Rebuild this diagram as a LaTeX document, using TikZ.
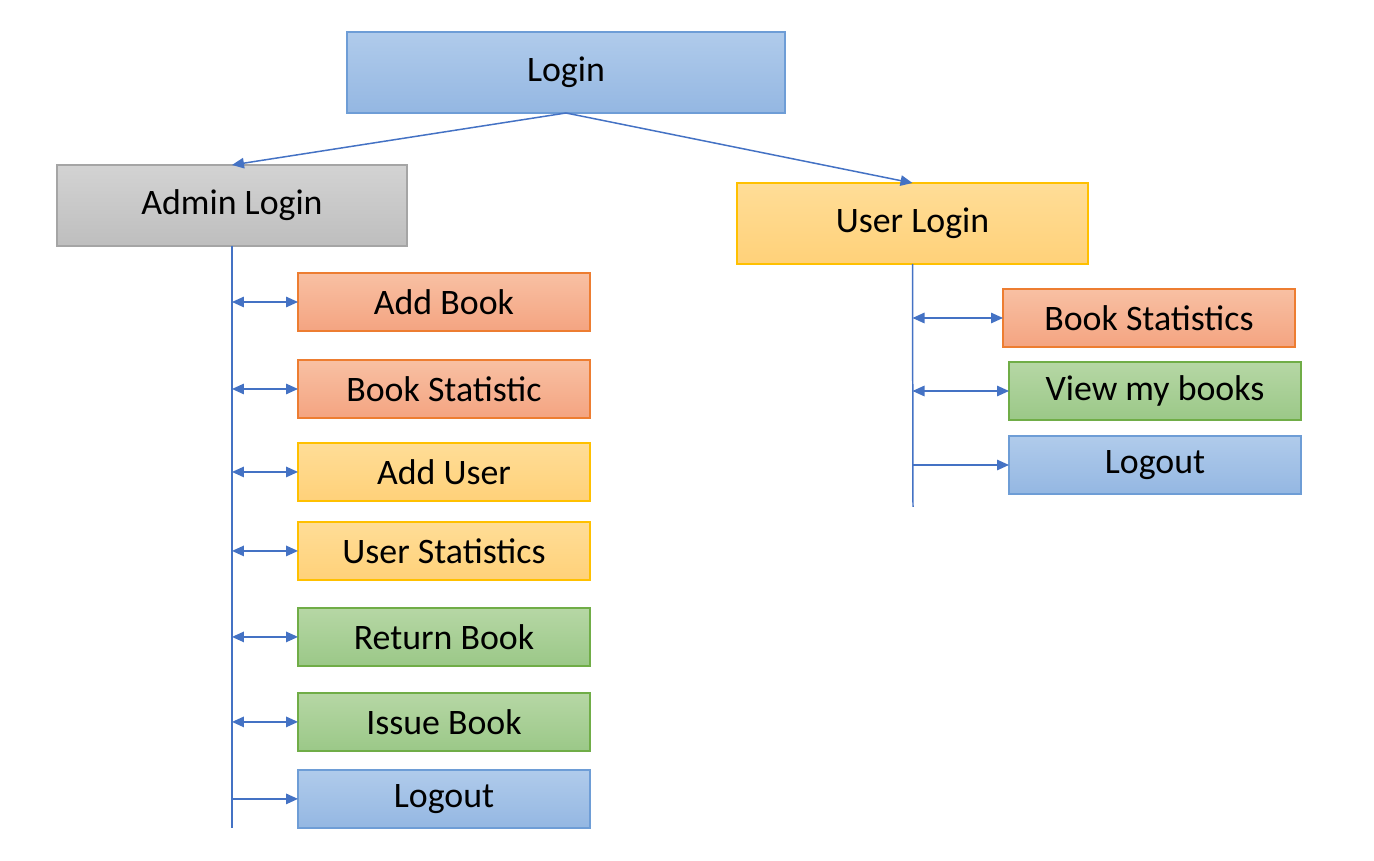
\documentclass[tikz,border=0pt]{standalone}
\usepackage{fontspec}
\setmainfont{Carlito}
\usetikzlibrary{positioning, arrows.meta}
\definecolor{linkblue}{HTML}{4472C4}
\definecolor{bluetop}{HTML}{B0CBEB}
\definecolor{bluebot}{HTML}{94B7E2}
\definecolor{blueline}{HTML}{6E9DD6}
\definecolor{graytop}{HTML}{D3D3D3}
\definecolor{graybot}{HTML}{BEBEBE}
\definecolor{grayline}{HTML}{A5A5A5}
\definecolor{yellowtop}{HTML}{FFDD97}
\definecolor{yellowbot}{HTML}{FFD179}
\definecolor{yellowline}{HTML}{FFC000}
\definecolor{orangetop}{HTML}{F8C0A3}
\definecolor{orangebot}{HTML}{F4A481}
\definecolor{orangeline}{HTML}{ED7D31}
\definecolor{greentop}{HTML}{B6D7A5}
\definecolor{greenbot}{HTML}{9BC888}
\definecolor{greenline}{HTML}{70AD47}
\tikzset{
x=0.02cm, y=-0.02cm, % one unit is one pixel of the layout
>={Triangle[length=0.24cm, width=0.21cm]}, % filled arrow heads
every node/.style={font=\fontsize{20.4}{24}\selectfont, text=black},
box/.style={draw, line width=0.8pt, outer sep=0pt, minimum width=5.84cm, minimum height=1.16cm, inner sep=0pt},
bluebox/.style={box, draw=blueline, top color=bluetop, bottom color=bluebot},
graybox/.style={box, draw=grayline, top color=graytop, bottom color=graybot},
yellowbox/.style={box, draw=yellowline, top color=yellowtop, bottom color=yellowbot},
orangebox/.style={box, draw=orangeline, top color=orangetop, bottom color=orangebot},
greenbox/.style={box, draw=greenline, top color=greentop, bottom color=greenbot},
link/.style={draw=linkblue, line width=0.85pt},
}

\begin{document}
\begin{tikzpicture}
      \useasboundingbox (0,0) rectangle (1374,861);
      \node[bluebox, minimum width=8.76cm, minimum height=1.62cm] (login) at (566,72.5) {Login};
      \node[graybox, minimum width=7cm, minimum height=1.62cm] (admin) at (232,205.5) {Admin Login};
      \node[yellowbox, minimum width=7.02cm, minimum height=1.62cm] (user) at (912.5,223.5) {User Login};

      % admin menu
      \node[orangebox, anchor=west] (addbook) at (298,302) {Add Book};
      \node[orangebox, below=0.58cm of addbook] (bookstat) {Book Statistic};
      \node[yellowbox, below=0.5cm of bookstat] (adduser) {Add User};
      \node[yellowbox, below=0.42cm of adduser] (userstat) {User Statistics};
      \node[greenbox, below=0.56cm of userstat] (returnbook) {Return Book};
      \node[greenbox, below=0.54cm of returnbook] (issuebook) {Issue Book};
      \node[bluebox, below=0.38cm of issuebook] (adminlogout) {Logout};
      \coordinate (adminend) at (232,828);

      % user menu
      \node[orangebox, anchor=west] (userbookstat) at (1003,318) {Book Statistics};
      \node[greenbox, anchor=west] (mybooks) at (1009,391) {View my books};
      \node[bluebox, anchor=west] (userlogout) at (1009,465) {Logout};
      \coordinate (userend) at (913,507);

      \draw[link, ->] (login.south) -- (admin.north);
      \draw[link, ->] (login.south) -- (user.north);

      \draw[link] (admin.south) -- (adminend);
      \foreach \item in {addbook, bookstat, adduser, userstat, returnbook, issuebook}
        \draw[link, <->] (admin.south |- \item.west) -- (\item.west);
      \draw[link, ->] (admin.south |- adminlogout.west) -- (adminlogout.west);

      \draw[link] (user.south) -- (userend);
      \foreach \item in {userbookstat, mybooks}
        \draw[link, <->] (user.south |- \item.west) -- (\item.west);
      \draw[link, ->] (user.south |- userlogout.west) -- (userlogout.west);
    \end{tikzpicture}
\end{document}
